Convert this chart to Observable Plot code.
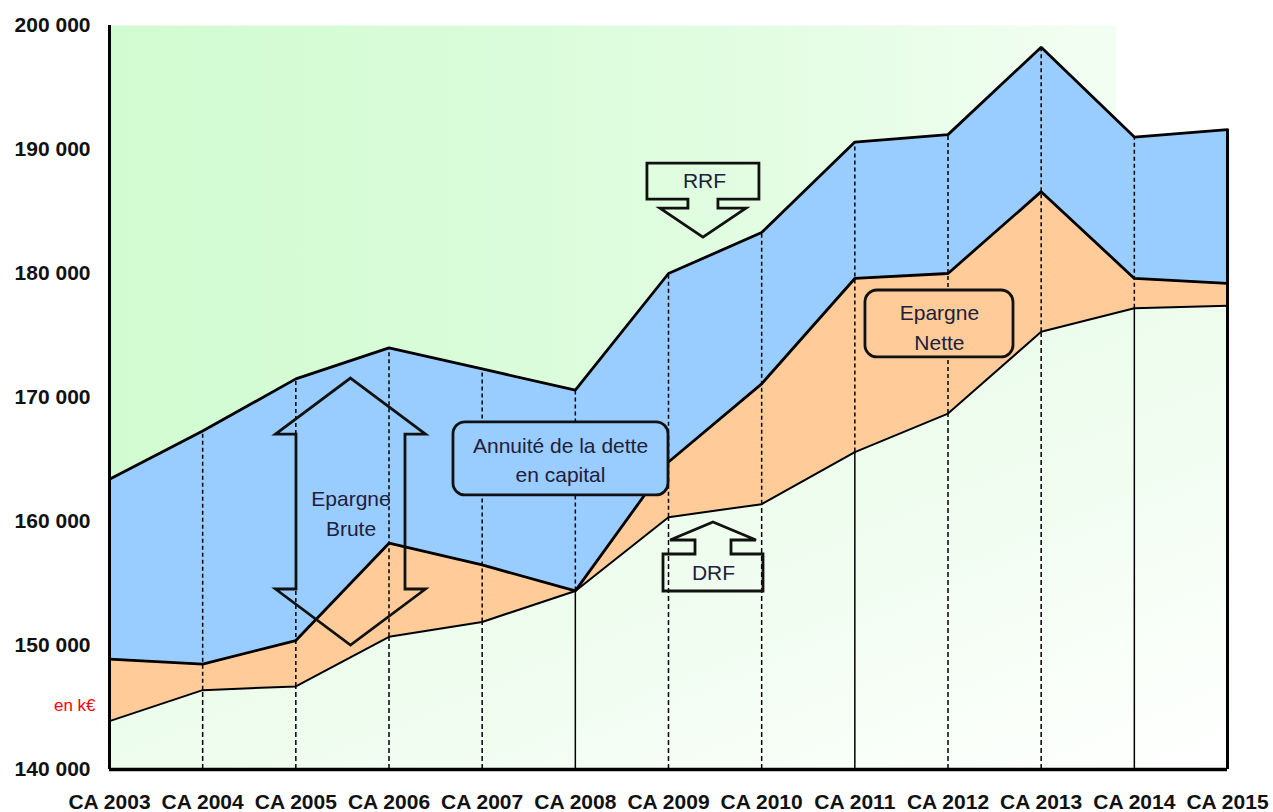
<!DOCTYPE html>
<html>
<head>
<meta charset="utf-8">
<script src="https://cdn.jsdelivr.net/npm/d3@7"></script>
<script src="https://cdn.jsdelivr.net/npm/@observablehq/plot@0.6"></script>
<style>
  html, body { margin: 0; padding: 0; background: #ffffff; }
  #chart svg { display: block; }
</style>
</head>
<body>
<div id="chart"></div>
<script>
// Comptes administratifs 2003–2015 (en k€)
const categories = ["CA 2003", "CA 2004", "CA 2005", "CA 2006", "CA 2007", "CA 2008", "CA 2009",
                    "CA 2010", "CA 2011", "CA 2012", "CA 2013", "CA 2014", "CA 2015"];

// Recettes réelles de fonctionnement
const rrf = [163400, 167300, 171500, 174000, 172300, 170600, 180000,
             183300, 190600, 191200, 198250, 191000, 191600];

// RRF diminuées de l'annuité de la dette en capital (= DRF + épargne nette)
const rrfMoinsAnnuite = [148900, 148500, 150400, 158250, 156500, 154400, 164800,
                         171100, 179600, 180000, 186600, 179600, 179200];

// Dépenses réelles de fonctionnement
const drf = [143900, 146400, 146700, 150700, 151900, 154400, 160350,
             161400, 165600, 168700, 175300, 177200, 177400];

const yTicks = [140000, 150000, 160000, 170000, 180000, 190000, 200000];
const yTickLabels = ["140 000", "150 000", "160 000", "170 000", "180 000", "190 000", "200 000"];

// Years whose guide is drawn solid under the DRF curve
const solidGuides = ["CA 2008", "CA 2011", "CA 2014"];

const rows = categories.map((cat, i) => ({i, cat, rrf: rrf[i], mid: rrfMoinsAnnuite[i], drf: drf[i]}));
const interior = rows.slice(1, -1);
const yMin = yTicks[0], yMax = yTicks[yTicks.length - 1];

// Annotation labels, placed in data space (x = year index, y = k€)
const labels = [
  {x: 2.592, y: 160800, text: "Epargne\nBrute"},
  {x: 4.841, y: 165120, text: "Annuité de la dette\nen capital"},
  {x: 8.908, y: 175800, text: "Epargne\nNette"},
  {x: 6.386, y: 187700, text: "RRF"},
  {x: 6.483, y: 156050, text: "DRF"}
];

// Rounded callout boxes
const boxes = [
  {x1: 3.692, x2: 6.0, y1: 162100, y2: 168000, fill: "#99CCFF"},
  {x1: 8.114, x2: 9.703, y1: 173230, y2: 178630, fill: "#FFCC99"}
];

// Block arrows: anchor tip in data space, outline drawn in pixels around it
const arrows = [
  {kind: "down", x: 6.375, y: 182900},
  {kind: "up", x: 6.483, y: 159920},
  {kind: "double", x: 2.592, yTop: 171530, yBottom: 150000}
];

function arrowOutline(a, sx, sy) {
  const cx = sx(a.x);
  if (a.kind === "down") {
    const ty = sy(a.y);
    const pts = [[0, 0], [43, -29], [15, -29], [15, -38], [56, -38], [56, -74],
                 [-56, -74], [-56, -38], [-15, -38], [-15, -29], [-43, -29]];
    return pts.map(([dx, dy]) => [cx + dx, ty + dy]);
  }
  if (a.kind === "up") {
    const ty = sy(a.y);
    const pts = [[0, 0], [43, 18], [18, 18], [18, 32], [50, 32], [50, 69],
                 [-50, 69], [-50, 32], [-18, 32], [-18, 18], [-43, 18]];
    return pts.map(([dx, dy]) => [cx + dx, ty + dy]);
  }
  const t = sy(a.yTop), b = sy(a.yBottom);
  const head = 56, hw = 75, sw = 54.5;
  return [[cx, t], [cx + hw, t + head], [cx + sw, t + head], [cx + sw, b - head],
          [cx + hw, b - head], [cx, b], [cx - hw, b - head], [cx - sw, b - head],
          [cx - sw, t + head], [cx - hw, t + head]];
}

const chart = Plot.plot({
  width: 1273,
  height: 812,
  marginLeft: 109,
  marginRight: 46,
  marginTop: 25,
  marginBottom: 43,
  style: {fontFamily: "'Liberation Sans', Arial, sans-serif", background: "#ffffff", overflow: "visible"},
  x: {type: "linear", domain: [0, categories.length - 1], label: null},
  y: {domain: [yMin, yMax], label: null},
  marks: [
    // gradient definitions
    () => {
      const defs = d3.create("svg:defs");
      const top = defs.append("linearGradient").attr("id", "fondHaut")
        .attr("x1", 0).attr("y1", 0).attr("x2", 1).attr("y2", 0);
      [[0, "#D1FBD1"], [0.3, "#D8FCD8"], [0.6, "#E3FDE3"], [0.9, "#F3FEF3"], [0.9, "#FFFFFF"], [1, "#FFFFFF"]]
        .forEach(([o, c]) => top.append("stop").attr("offset", o).attr("stop-color", c));
      const low = defs.append("linearGradient").attr("id", "fondBas")
        .attr("x1", 0).attr("y1", 0).attr("x2", 1).attr("y2", 1);
      [[0, "#E0FADF"], [0.6, "#F0FDF0"], [1, "#FFFFFF"]]
        .forEach(([o, c]) => low.append("stop").attr("offset", o).attr("stop-color", c));
      return defs.node();
    },
    Plot.frame({fill: "url(#fondHaut)", stroke: "none"}),

    // stacked bands
    Plot.areaY(rows, {x: "i", y1: yMin, y2: "drf", fill: "url(#fondBas)"}),
    Plot.areaY(rows, {x: "i", y1: "drf", y2: "mid", fill: "#FFCC99"}),
    Plot.areaY(rows, {x: "i", y1: "mid", y2: "rrf", fill: "#99CCFF"}),

    // yearly guides
    Plot.ruleX(interior, {x: "i", y1: "drf", y2: "rrf", stroke: "#000", strokeWidth: 1.5, strokeDasharray: "4,3"}),
    Plot.ruleX(interior.filter(d => !solidGuides.includes(d.cat)),
      {x: "i", y1: yMin, y2: "drf", stroke: "#000", strokeWidth: 1.5, strokeDasharray: "5,3"}),
    Plot.ruleX(interior.filter(d => solidGuides.includes(d.cat)),
      {x: "i", y1: yMin, y2: "drf", stroke: "#000", strokeWidth: 1.5}),

    // curves
    Plot.line(rows, {x: "i", y: "rrf", stroke: "#000", strokeWidth: 2.8, strokeLinejoin: "miter"}),
    Plot.line(rows, {x: "i", y: "mid", stroke: "#000", strokeWidth: 2.8, strokeLinejoin: "miter"}),
    Plot.line(rows, {x: "i", y: "drf", stroke: "#000", strokeWidth: 2, strokeLinejoin: "miter"}),

    // plot borders
    Plot.ruleX([rows[0]], {x: "i", y1: yMin, y2: yMax, stroke: "#000", strokeWidth: 3}),
    Plot.ruleX([rows[rows.length - 1]], {x: "i", y1: yMin, y2: "rrf", stroke: "#000", strokeWidth: 3}),
    Plot.ruleY([yMin], {stroke: "#000", strokeWidth: 3.5}),

    // callouts
    Plot.rect(boxes, {x1: "x1", x2: "x2", y1: "y1", y2: "y2", fill: "fill", rx: 12,
      stroke: "#111", strokeWidth: 2.8}),
    (index, scales) => {
      const g = d3.create("svg:g").attr("fill", "none").attr("stroke", "#111")
        .attr("stroke-width", 2.8).attr("stroke-linejoin", "miter");
      for (const a of arrows) {
        g.append("path").attr("d", d3.line()(arrowOutline(a, scales.x, scales.y)) + "Z");
      }
      return g.node();
    },
    Plot.text(labels, {x: "x", y: "y", text: "text", fontSize: 21, lineHeight: 1.42,
      fill: "#20203c", ariaLabel: "annotation-text"}),
    Plot.text([{x: -0.15, y: 145160}], {x: "x", y: "y", text: () => "en k€", textAnchor: "end",
      fontSize: 17, fill: "#ff0000", ariaLabel: "unit-text"}),

    // axes
    Plot.axisY(yTicks, {tickSize: 0, tickPadding: 19, tickFormat: d => yTickLabels[yTicks.indexOf(d)],
      fontSize: 21, fontWeight: "bold", fill: "#111", label: null}),
    Plot.axisX(d3.range(categories.length), {tickSize: 0, tickPadding: 25, tickFormat: i => categories[i],
      fontSize: 21, fontWeight: "bold", fill: "#111", label: null})
  ]
});

d3.select(chart).selectAll('g[aria-label="annotation-text"] text').style("letter-spacing", "0.6px");
d3.select(chart).selectAll('g[aria-label="unit-text"] text').style("letter-spacing", "0.8px");
document.getElementById("chart").appendChild(chart);
</script>
</body>
</html>
